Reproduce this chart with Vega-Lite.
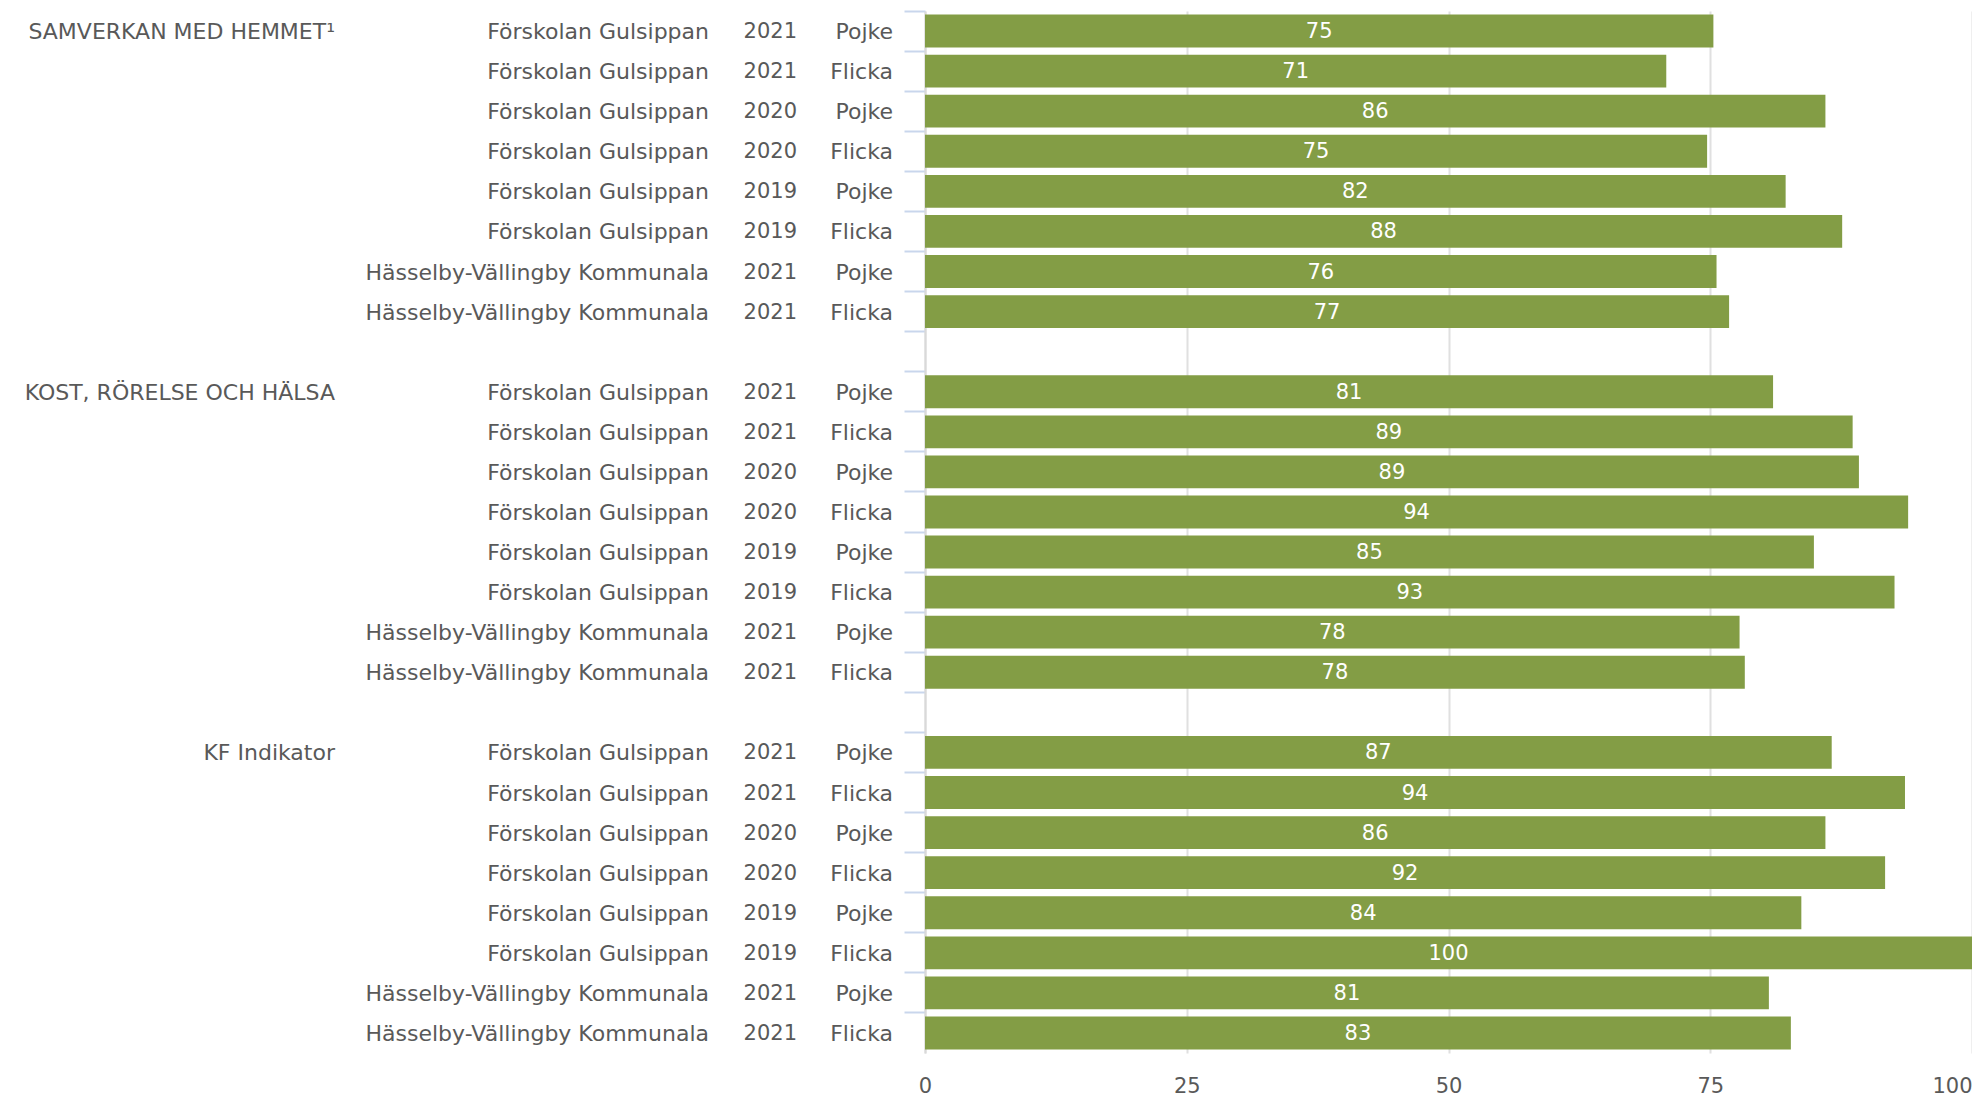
{
  "$schema": "https://vega.github.io/schema/vega-lite/v6.json",
  "background": "white",
  "padding": {"left": 0, "top": 10, "right": 0, "bottom": 0},
  "config": {
    "view": {"stroke": null},
    "concat": {"spacing": 32},
    "font": "DejaVu Sans"
  },
  "bounds": "flush",
  "spacing": 32,
  "datasets": {
    "bars": [
      {"row": "r01", "grp": "SAMVERKAN MED HEMMET", "school": "Förskolan Gulsippan", "year": "2021", "gender": "Pojke", "value": 75.3},
      {"row": "r02", "grp": "SAMVERKAN MED HEMMET", "school": "Förskolan Gulsippan", "year": "2021", "gender": "Flicka", "value": 70.8},
      {"row": "r03", "grp": "SAMVERKAN MED HEMMET", "school": "Förskolan Gulsippan", "year": "2020", "gender": "Pojke", "value": 86.0},
      {"row": "r04", "grp": "SAMVERKAN MED HEMMET", "school": "Förskolan Gulsippan", "year": "2020", "gender": "Flicka", "value": 74.7},
      {"row": "r05", "grp": "SAMVERKAN MED HEMMET", "school": "Förskolan Gulsippan", "year": "2019", "gender": "Pojke", "value": 82.2},
      {"row": "r06", "grp": "SAMVERKAN MED HEMMET", "school": "Förskolan Gulsippan", "year": "2019", "gender": "Flicka", "value": 87.6},
      {"row": "r07", "grp": "SAMVERKAN MED HEMMET", "school": "Hässelby-Vällingby Kommunala", "year": "2021", "gender": "Pojke", "value": 75.6},
      {"row": "r08", "grp": "SAMVERKAN MED HEMMET", "school": "Hässelby-Vällingby Kommunala", "year": "2021", "gender": "Flicka", "value": 76.8},
      {"row": "r09", "grp": "KOST, RÖRELSE OCH HÄLSA", "school": "Förskolan Gulsippan", "year": "2021", "gender": "Pojke", "value": 81.0},
      {"row": "r10", "grp": "KOST, RÖRELSE OCH HÄLSA", "school": "Förskolan Gulsippan", "year": "2021", "gender": "Flicka", "value": 88.6},
      {"row": "r11", "grp": "KOST, RÖRELSE OCH HÄLSA", "school": "Förskolan Gulsippan", "year": "2020", "gender": "Pojke", "value": 89.2},
      {"row": "r12", "grp": "KOST, RÖRELSE OCH HÄLSA", "school": "Förskolan Gulsippan", "year": "2020", "gender": "Flicka", "value": 93.9},
      {"row": "r13", "grp": "KOST, RÖRELSE OCH HÄLSA", "school": "Förskolan Gulsippan", "year": "2019", "gender": "Pojke", "value": 84.9},
      {"row": "r14", "grp": "KOST, RÖRELSE OCH HÄLSA", "school": "Förskolan Gulsippan", "year": "2019", "gender": "Flicka", "value": 92.6},
      {"row": "r15", "grp": "KOST, RÖRELSE OCH HÄLSA", "school": "Hässelby-Vällingby Kommunala", "year": "2021", "gender": "Pojke", "value": 77.8},
      {"row": "r16", "grp": "KOST, RÖRELSE OCH HÄLSA", "school": "Hässelby-Vällingby Kommunala", "year": "2021", "gender": "Flicka", "value": 78.3},
      {"row": "r17", "grp": "KF Indikator", "school": "Förskolan Gulsippan", "year": "2021", "gender": "Pojke", "value": 86.6},
      {"row": "r18", "grp": "KF Indikator", "school": "Förskolan Gulsippan", "year": "2021", "gender": "Flicka", "value": 93.6},
      {"row": "r19", "grp": "KF Indikator", "school": "Förskolan Gulsippan", "year": "2020", "gender": "Pojke", "value": 86.0},
      {"row": "r20", "grp": "KF Indikator", "school": "Förskolan Gulsippan", "year": "2020", "gender": "Flicka", "value": 91.7},
      {"row": "r21", "grp": "KF Indikator", "school": "Förskolan Gulsippan", "year": "2019", "gender": "Pojke", "value": 83.7},
      {"row": "r22", "grp": "KF Indikator", "school": "Förskolan Gulsippan", "year": "2019", "gender": "Flicka", "value": 100},
      {"row": "r23", "grp": "KF Indikator", "school": "Hässelby-Vällingby Kommunala", "year": "2021", "gender": "Pojke", "value": 80.6},
      {"row": "r24", "grp": "KF Indikator", "school": "Hässelby-Vällingby Kommunala", "year": "2021", "gender": "Flicka", "value": 82.7}
    ],
    "groups": [
      {"row": "r01", "label": "SAMVERKAN MED HEMMET¹"},
      {"row": "r09", "label": "KOST, RÖRELSE OCH HÄLSA"},
      {"row": "r17", "label": "KF Indikator"}
    ]
  },
  "hconcat": [
    {
      "width": 335, "height": 1042,
      "data": {"name": "groups"},
      "mark": {"type": "text", "align": "right", "baseline": "middle", "fontSize": 22, "dy": 1, "color": "#595959"},
      "encoding": {
        "y": {"field": "row", "type": "nominal", "axis": null,
          "scale": {"domain": ["r01","r02","r03","r04","r05","r06","r07","r08","gap1","r09","r10","r11","r12","r13","r14","r15","r16","gap2","r17","r18","r19","r20","r21","r22","r23","r24"], "paddingInner": 0, "paddingOuter": 0}},
        "x": {"value": "width"},
        "text": {"field": "label"}
      }
    },
    {
      "width": 342, "height": 1042,
      "data": {"name": "bars"},
      "mark": {"type": "text", "align": "right", "baseline": "middle", "fontSize": 22, "dy": 1, "color": "#595959"},
      "encoding": {
        "y": {"field": "row", "type": "nominal", "axis": null,
          "scale": {"domain": ["r01","r02","r03","r04","r05","r06","r07","r08","gap1","r09","r10","r11","r12","r13","r14","r15","r16","gap2","r17","r18","r19","r20","r21","r22","r23","r24"], "paddingInner": 0, "paddingOuter": 0}},
        "x": {"value": "width"},
        "text": {"field": "school"}
      }
    },
    {
      "width": 56, "height": 1042,
      "data": {"name": "bars"},
      "mark": {"type": "text", "align": "right", "baseline": "middle", "fontSize": 21, "dy": 1, "color": "#595959"},
      "encoding": {
        "y": {"field": "row", "type": "nominal", "axis": null,
          "scale": {"domain": ["r01","r02","r03","r04","r05","r06","r07","r08","gap1","r09","r10","r11","r12","r13","r14","r15","r16","gap2","r17","r18","r19","r20","r21","r22","r23","r24"], "paddingInner": 0, "paddingOuter": 0}},
        "x": {"value": "width"},
        "text": {"field": "year"}
      }
    },
    {
      "width": 64, "height": 1042,
      "data": {"name": "bars"},
      "mark": {"type": "text", "align": "right", "baseline": "middle", "fontSize": 22, "dy": 1, "color": "#595959"},
      "encoding": {
        "y": {"field": "row", "type": "nominal", "axis": null,
          "scale": {"domain": ["r01","r02","r03","r04","r05","r06","r07","r08","gap1","r09","r10","r11","r12","r13","r14","r15","r16","gap2","r17","r18","r19","r20","r21","r22","r23","r24"], "paddingInner": 0, "paddingOuter": 0}},
        "x": {"value": "width"},
        "text": {"field": "gender"}
      }
    },
    {
      "width": 1047, "height": 1042,
      "data": {"name": "bars"},
      "encoding": {
        "y": {"field": "row", "type": "nominal",
          "scale": {"domain": ["r01","r02","r03","r04","r05","r06","r07","r08","gap1","r09","r10","r11","r12","r13","r14","r15","r16","gap2","r17","r18","r19","r20","r21","r22","r23","r24"], "paddingInner": 0, "paddingOuter": 0},
          "axis": {"title": null, "labels": false, "domain": true, "domainColor": "#D9D9D9", "domainWidth": 2, "ticks": true, "tickColor": "#C9D6EC", "tickSize": 21, "tickWidth": 2, "bandPosition": 0, "grid": false}}
      },
      "layer": [
        {
          "mark": {"type": "bar", "color": "#839D45", "height": {"band": 0.82}},
          "encoding": {
            "x": {"field": "value", "type": "quantitative",
              "scale": {"domain": [0, 100], "nice": false, "zero": true},
              "axis": {"title": null, "values": [0, 25, 50, 75, 100], "grid": true, "gridColor": "#E0E0E0", "gridWidth": 2, "domain": false, "ticks": false, "labelPadding": 22, "labelFontSize": 21, "labelColor": "#595959",
                "labelAlign": {"condition": {"test": "datum.value == 100", "value": "right"}, "value": "center"}}}
          }
        },
        {
          "mark": {"type": "text", "color": "white", "fontSize": 21, "dy": 1, "align": "center", "baseline": "middle"},
          "encoding": {
            "x": {"field": "value", "type": "quantitative", "stack": "zero", "bandPosition": 0.5},
            "text": {"field": "value", "type": "quantitative", "format": ".0f"}
          }
        }
      ]
    }
  ]
}
